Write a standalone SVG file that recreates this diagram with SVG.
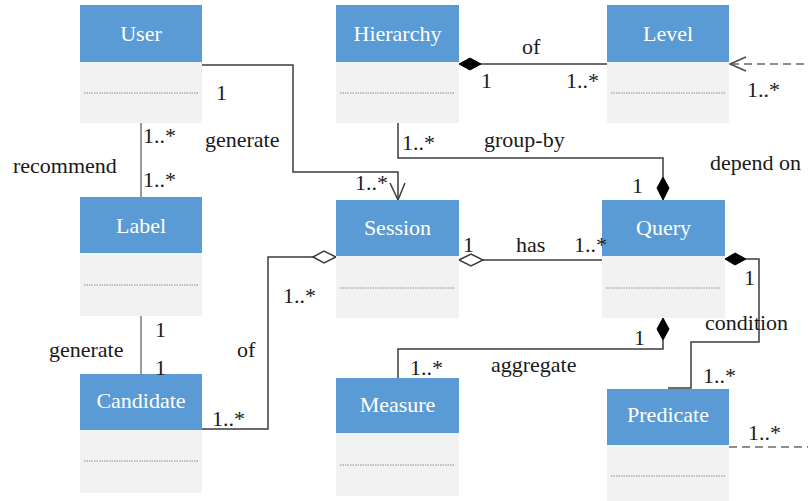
<svg xmlns="http://www.w3.org/2000/svg" width="808" height="501" viewBox="0 0 808 501">
<rect width="808" height="501" fill="#fff"/>
<g id="connectors" fill="none" stroke="#3C3C3C" stroke-width="1.5">
<polyline points="202,65 293,65 293,172 398,172 398,200"/>
<polyline points="390,183 398,200 405,183"/>
<line stroke="#9A9A9A" stroke-width="2" x1="141" y1="123" x2="141" y2="197"/>
<line stroke="#9A9A9A" stroke-width="2" x1="141" y1="316" x2="141" y2="374"/>
<line x1="480" y1="64" x2="607" y2="64"/>
<polygon fill="#000" stroke="#000" stroke-width="1" points="459,64 470,58 481,64 470,70"/>
<polyline points="398,123 398,158 663,158 663,177"/>
<polygon fill="#000" stroke="#000" stroke-width="1" points="663,177 669,188 663,200 657,188"/>
<line stroke="#6A6A6A" stroke-dasharray="8 5" x1="731" y1="64" x2="808" y2="64"/>
<polyline stroke="#4A4A4A" points="746,57 730,64 746,71"/>
<line stroke="#6A6A6A" stroke-dasharray="8 5" x1="729" y1="447" x2="808" y2="447"/>
<line x1="483" y1="260" x2="602" y2="260"/>
<polygon fill="#fff" points="459,260 471,254 483,260 471,266"/>
<polyline points="202,429 268,429 268,257 313,257"/>
<polygon fill="#fff" points="313,257 324,251 336,257 324,263"/>
<polyline points="663,340 663,349 398,349 398,378"/>
<polygon fill="#000" stroke="#000" stroke-width="1" points="663,318 669,329 663,340 657,329"/>
<polyline points="746,259 759,259 759,342 691,342 691,388 668,388"/>
<polygon fill="#000" stroke="#000" stroke-width="1" points="725,259 735,253 746,259 735,265"/>
</g>
<g id="nodes" font-family="Liberation Serif" font-size="22" text-anchor="middle">
<g id="User">
<rect fill="#5B9BD5" x="80" y="5" width="122" height="57"/>
<rect fill="#F2F2F2" x="80" y="62" width="122" height="61"/>
<line stroke="#8C8C8C" stroke-dasharray="1.5 1" x1="84" y1="93" x2="198" y2="93"/>
<text font-family="Liberation Serif" fill="#fff" x="141" y="41">User</text>
</g>
<g id="Hierarchy">
<rect fill="#5B9BD5" x="336" y="5" width="123" height="57"/>
<rect fill="#F2F2F2" x="336" y="62" width="123" height="61"/>
<line stroke="#8C8C8C" stroke-dasharray="1.5 1" x1="340" y1="93" x2="455" y2="93"/>
<text font-family="Liberation Serif" fill="#fff" x="397.5" y="41">Hierarchy</text>
</g>
<g id="Level">
<rect fill="#5B9BD5" x="607" y="5" width="122" height="57"/>
<rect fill="#F2F2F2" x="607" y="62" width="122" height="61"/>
<line stroke="#8C8C8C" stroke-dasharray="1.5 1" x1="611" y1="93" x2="725" y2="93"/>
<text font-family="Liberation Serif" fill="#fff" x="668" y="41">Level</text>
</g>
<g id="Label">
<rect fill="#5B9BD5" x="80" y="197" width="122" height="56"/>
<rect fill="#F2F2F2" x="80" y="253" width="122" height="63"/>
<line stroke="#8C8C8C" stroke-dasharray="1.5 1" x1="84" y1="285" x2="198" y2="285"/>
<text font-family="Liberation Serif" fill="#fff" x="141" y="233">Label</text>
</g>
<g id="Session">
<rect fill="#5B9BD5" x="336" y="200" width="123" height="56"/>
<rect fill="#F2F2F2" x="336" y="256" width="123" height="62"/>
<line stroke="#8C8C8C" stroke-dasharray="1.5 1" x1="340" y1="288" x2="455" y2="288"/>
<text font-family="Liberation Serif" fill="#fff" x="397.5" y="235">Session</text>
</g>
<g id="Query">
<rect fill="#5B9BD5" x="602" y="200" width="123" height="56"/>
<rect fill="#F2F2F2" x="602" y="256" width="123" height="62"/>
<line stroke="#8C8C8C" stroke-dasharray="1.5 1" x1="606" y1="288" x2="721" y2="288"/>
<text font-family="Liberation Serif" fill="#fff" x="663.5" y="235">Query</text>
</g>
<g id="Candidate">
<rect fill="#5B9BD5" x="80" y="374" width="122" height="56"/>
<rect fill="#F2F2F2" x="80" y="430" width="122" height="63"/>
<line stroke="#8C8C8C" stroke-dasharray="1.5 1" x1="84" y1="461" x2="198" y2="461"/>
<text font-family="Liberation Serif" fill="#fff" x="141" y="408">Candidate</text>
</g>
<g id="Measure">
<rect fill="#5B9BD5" x="336" y="378" width="123" height="55"/>
<rect fill="#F2F2F2" x="336" y="433" width="123" height="63"/>
<line stroke="#8C8C8C" stroke-dasharray="1.5 1" x1="340" y1="465" x2="455" y2="465"/>
<text font-family="Liberation Serif" fill="#fff" x="397.5" y="412">Measure</text>
</g>
<g id="Predicate">
<rect fill="#5B9BD5" x="607" y="389" width="122" height="56"/>
<rect fill="#F2F2F2" x="607" y="445" width="122" height="56"/>
<line stroke="#8C8C8C" stroke-dasharray="1.5 1" x1="611" y1="476" x2="725" y2="476"/>
<text font-family="Liberation Serif" fill="#fff" x="668" y="422">Predicate</text>
</g>
</g>
<g id="labels" font-family="Liberation Serif" font-size="22" fill="#1A1A1A">
<text font-family="Liberation Serif" x="216" y="100">1</text>
<text font-family="Liberation Serif" x="205" y="147">generate</text>
<text font-family="Liberation Serif" x="355" y="190">1..*</text>
<text font-family="Liberation Serif" x="143" y="143">1..*</text>
<text font-family="Liberation Serif" x="143" y="187">1..*</text>
<text font-family="Liberation Serif" x="13" y="173">recommend</text>
<text font-family="Liberation Serif" x="522" y="54">of</text>
<text font-family="Liberation Serif" x="481" y="88">1</text>
<text font-family="Liberation Serif" x="566" y="88">1..*</text>
<text font-family="Liberation Serif" x="402" y="150">1..*</text>
<text font-family="Liberation Serif" x="484" y="147">group-by</text>
<text font-family="Liberation Serif" x="632" y="193">1</text>
<text font-family="Liberation Serif" x="747" y="97">1..*</text>
<text font-family="Liberation Serif" x="710" y="170">depend on</text>
<text font-family="Liberation Serif" x="463" y="252">1</text>
<text font-family="Liberation Serif" x="516" y="252">has</text>
<text font-family="Liberation Serif" x="574" y="252">1..*</text>
<text font-family="Liberation Serif" x="283" y="303">1..*</text>
<text font-family="Liberation Serif" x="237" y="357">of</text>
<text font-family="Liberation Serif" x="212" y="426">1..*</text>
<text font-family="Liberation Serif" x="155" y="337">1</text>
<text font-family="Liberation Serif" x="155" y="375">1</text>
<text font-family="Liberation Serif" x="49" y="357">generate</text>
<text font-family="Liberation Serif" x="744" y="285">1</text>
<text font-family="Liberation Serif" x="705" y="330">condition</text>
<text font-family="Liberation Serif" x="634" y="345">1</text>
<text font-family="Liberation Serif" x="410" y="375">1..*</text>
<text font-family="Liberation Serif" x="491" y="372">aggregate</text>
<text font-family="Liberation Serif" x="703" y="383">1..*</text>
<text font-family="Liberation Serif" x="748" y="440">1..*</text>
</g>
</svg>
